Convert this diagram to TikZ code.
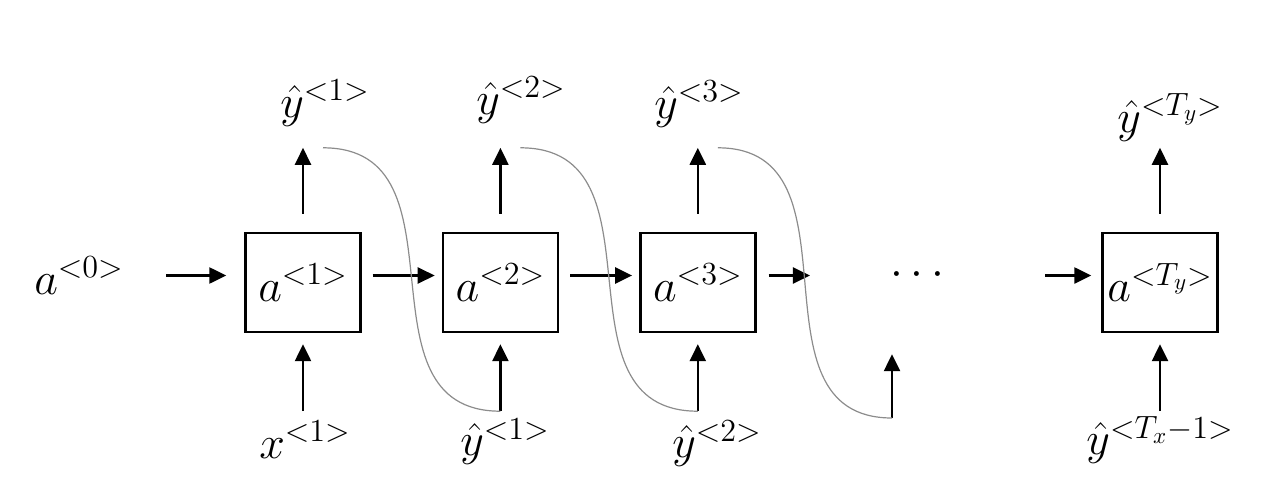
\RequirePackage{fix-cm}
\documentclass[tikz,border=0pt]{standalone}
\usepackage{amsmath}
\usepackage{tikz}
\usetikzlibrary{arrows.meta,positioning}
\definecolor{lgray}{HTML}{8C8C8C}

\begin{document}
\begin{tikzpicture}[x=0.5pt,y=0.5pt,font=\fontsize{23}{28}\selectfont,
  >={Triangle[length=8.5pt,width=8pt]},node distance=40pt,
  cell/.style={draw,line width=1.2pt,minimum width=57.5pt,minimum height=49.5pt,inner sep=0pt},
  lbl/.style={inner sep=3pt},
  arr/.style={->,line width=1.2pt},
  feed/.style={draw=lgray,line width=0.6pt}]
\useasboundingbox (0,0) rectangle (1267,478);

\node[cell] (b1) at (303,195.5) {$a^{<1>}$};
\node[cell,right=of b1] (b2) {$a^{<2>}$};
\node[cell,right=of b2] (b3) {$a^{<3>}$};
\node[cell] (b4) at (1160,195.5) {$a^{<T_y>}$};

\node[lbl] (a0) at (79,202.5) {$a^{<0>}$};
\node[lbl] (dots) at (921,202.5) {$\cdots$};

\node[lbl] (yt1) at (325,375) {$\hat{y}^{<1>}$};
\node[lbl] (yt2) at (521,378) {$\hat{y}^{<2>}$};
\node[lbl] (yt3) at (699,374) {$\hat{y}^{<3>}$};
\node[lbl] (ytT) at (1170,360.5) {$\hat{y}^{<T_y>}$};

\node[lbl] (x1) at (305,38.5) {$x^{<1>}$};
\node[lbl] (yb1) at (505,36.5) {$\hat{y}^{<1>}$};
\node[lbl] (yb2) at (717,34.5) {$\hat{y}^{<2>}$};
\node[lbl] (ybT) at (1160,38) {$\hat{y}^{<T_x-1>}$};

\draw[arr,shorten <=18pt,shorten >=9pt] (a0.east) -- (b1.west |- a0);
\foreach \a/\b in {b1/b2,b2/b3}
  \draw[arr,shorten <=5.5pt,shorten >=3.5pt] (\a.east |- a0) -- (\b.west |- a0);
\draw[arr,shorten <=6pt,shorten >=37pt] (b3.east |- a0) -- (dots.west);
\draw[arr,shorten <=43.5pt,shorten >=5pt] (dots.east) -- (b4.west |- a0);

\foreach \b in {b1,b2,b3,b4} {
  \coordinate (\b-o) at ([yshift=42pt]\b.north);
  \coordinate (\b-i) at ([yshift=-39pt]\b.south);
  \draw[arr,shorten <=9pt] (\b.north) -- (\b-o);
  \draw[arr,shorten >=5.5pt] (\b-i) -- (\b.south);
}
\coordinate (e4) at (892,60);
\draw[arr,shorten >=10.5pt] (e4) -- (e4 |- b3.south);

\foreach \a/\b in {b1-o/b2-i,b2-o/b3-i,b3-o/e4}
  \draw[feed] ([xshift=10pt]\a) .. controls +(150,0) and +(-150,0) .. (\b);
\end{tikzpicture}
\end{document}
